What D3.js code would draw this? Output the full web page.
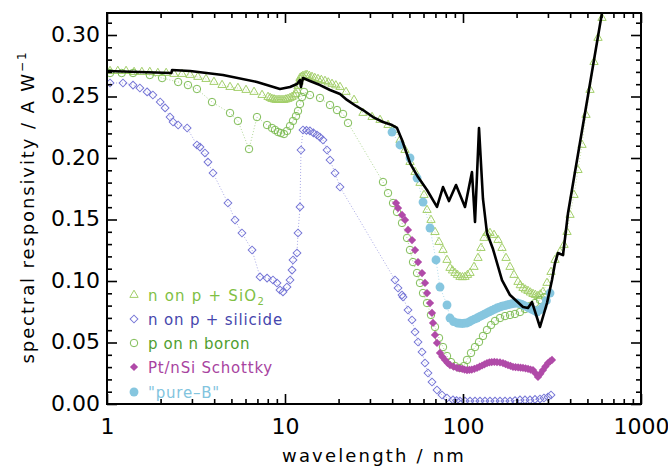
<!DOCTYPE html>
<html><head><meta charset="utf-8">
<script src="https://cdn.jsdelivr.net/npm/d3@7"></script>
<style>body{margin:0;background:#fff}svg{display:block}</style>
</head><body><svg id="c" width="668" height="469"></svg>
<script>
// ---- data: [wavelength nm, responsivity A/W] ----
const blackLine = [[1.00,0.2707],[2.30,0.2691],[2.32,0.2715],[2.93,0.2707],[4.48,0.2675],[6.96,0.2618],[9.37,0.2561],[10.67,0.2577],[11.68,0.2602],[12.14,0.2634],[12.30,0.2577],[12.62,0.2650],[13.81,0.2626],[15.73,0.2593],[17.90,0.2553],[20.37,0.2520],[22.30,0.2472],[25.06,0.2423],[27.43,0.2390],[31.23,0.2333],[35.53,0.2293],[39.93,0.2268],[42.59,0.2244],[45.44,0.2146],[50.39,0.1959],[55.89,0.1845],[62.78,0.1740],[71.43,0.1602],[77.20,0.1764],[83.4,0.1650],[91.37,0.1780],[102.6,0.1602],[112.3,0.1886],[116.8,0.1480],[123.0,0.2244],[129.5,0.1667],[136.4,0.1390],[147.4,0.1260],[165.6,0.1008],[183.7,0.0886],[217.3,0.0789],[231.8,0.0780],[244.2,0.0829],[270.7,0.0626],[296.4,0.0821],[316.2,0.1008],[328.8,0.1146],[341.7,0.1228],[364.6,0.1210],[389.1,0.1553],[603.8,0.3180],[640,0.335]];

const sio2 = [[1.04,0.2707],[1.15,0.2707],[1.28,0.2707],[1.42,0.2699],[1.57,0.2699],[1.74,0.2699],[1.93,0.2691],[2.15,0.2691],[2.38,0.2683],[2.64,0.2683],[2.93,0.2675],[3.24,0.2659],[3.60,0.2642],[3.99,0.2618],[4.43,0.2593],[4.91,0.2577],[5.44,0.2569],[6.04,0.2553],[6.70,0.2537],[7.43,0.2512],[8.03,0.2496],[8.25,0.2488],[8.45,0.2480],[8.68,0.2476],[8.90,0.2472],[9.14,0.2472],[9.37,0.2472],[9.62,0.2472],[9.87,0.2472],[10.13,0.2476],[10.39,0.2480],[10.67,0.2488],[10.95,0.2496],[11.24,0.2508],[11.53,0.2520],[11.68,0.2550],[11.83,0.2585],[12.00,0.2620],[12.14,0.2650],[12.38,0.2660],[12.62,0.2667],[13.00,0.2672],[13.29,0.2675],[13.70,0.2667],[14.18,0.2659],[14.70,0.2650],[15.32,0.2642],[16.00,0.2634],[16.78,0.2626],[17.50,0.2614],[18.37,0.2602],[19.30,0.2590],[20.37,0.2577],[22.02,0.2537],[24.42,0.2472],[27.43,0.2366],[30.83,0.2333],[34.19,0.2309],[37.91,0.2268],[41.50,0.2228],[44.28,0.2146],[47.23,0.2065],[50.39,0.1967],[53.77,0.1886],[57.35,0.1797],[60.38,0.1699],[62.78,0.1577],[66.09,0.1496],[69.61,0.1398],[73.31,0.1317],[77.20,0.1252],[81.30,0.1171],[84.53,0.1106],[87.3,0.1085],[90.19,0.1065],[93.1,0.1049],[96.19,0.1033],[99.3,0.1030],[102.6,0.1033],[106.0,0.1049],[109.5,0.1065],[115.3,0.1114],[121.4,0.1187],[126.2,0.1268],[131.2,0.1350],[136.4,0.1390],[141.8,0.1390],[149.4,0.1374],[157.3,0.1333],[165.6,0.1268],[174.4,0.1187],[183.7,0.1114],[193.4,0.1049],[203.7,0.0992],[210.0,0.0965],[217.3,0.0943],[224.0,0.0930],[231.8,0.0919],[239.0,0.0906],[247.3,0.0894],[255.0,0.0886],[263.8,0.0878],[272.0,0.0890],[281.4,0.0911],[296.4,0.0984],[312.2,0.1073],[328.8,0.1171],[350.7,0.1236],[369.4,0.1293],[384.0,0.1398],[399.2,0.1537],[420.4,0.1699],[442.6,0.1902],[466.2,0.2106],[491.0,0.2350],[517.0,0.2553],[544.5,0.2780],[573.4,0.2976],[603.8,0.3138]];

const silicide = [[1.04,0.2610],[1.23,0.2610],[1.40,0.2593],[1.53,0.2569],[1.68,0.2537],[1.81,0.2512],[1.99,0.2455],[2.12,0.2407],[2.26,0.2333],[2.35,0.2293],[2.51,0.2268],[2.82,0.2244],[3.20,0.2106],[3.33,0.2089],[3.55,0.2041],[3.69,0.1967],[3.94,0.1878],[4.78,0.1634],[5.24,0.1496],[5.73,0.1390],[6.53,0.1252],[7.24,0.1033],[7.93,0.1024],[8.56,0.1008],[9.02,0.0984],[9.37,0.0927],[9.74,0.0911],[10.26,0.0951],[10.67,0.1008],[10.95,0.1089],[11.09,0.1171],[11.68,0.1228],[11.83,0.1390],[12.14,0.1602],[12.30,0.2065],[12.62,0.2228],[13.20,0.2224],[13.81,0.2220],[14.45,0.2204],[15.13,0.2187],[15.70,0.2170],[16.35,0.2146],[17.22,0.2065],[17.90,0.1984],[19.10,0.1878],[20.37,0.1764],[41.50,0.1008],[43.14,0.0943],[45.44,0.0886],[46.03,0.0870],[49.09,0.0764],[51.71,0.0683],[53.77,0.0585],[55.89,0.0504],[58.86,0.0423],[61.17,0.0333],[63.59,0.0252],[66.96,0.0179],[71.43,0.0114],[76.2,0.0073],[81.30,0.0049],[87.87,0.0033],[92.0,0.0028],[96.19,0.0024],[102.6,0.0024],[109.5,0.0024],[116.8,0.0024],[124.6,0.0024],[132.9,0.0024],[141.8,0.0024],[151.3,0.0024],[161.4,0.0024],[172.2,0.0024],[183.7,0.0024],[196.0,0.0028],[209.0,0.0033],[223.0,0.0033],[237.9,0.0033],[253.8,0.0037],[270.7,0.0041],[285.0,0.0049],[300.3,0.0057],[312.2,0.0073]];

const boron = [[1.04,0.2691],[1.21,0.2691],[1.40,0.2691],[1.74,0.2675],[2.04,0.2650],[2.51,0.2618],[2.85,0.2593],[3.20,0.2561],[3.89,0.2455],[4.91,0.2366],[5.44,0.2301],[6.28,0.2073],[6.96,0.2333],[7.93,0.2268],[8.45,0.2244],[8.79,0.2228],[9.14,0.2211],[9.49,0.2203],[9.87,0.2195],[10.26,0.2220],[10.67,0.2260],[11.09,0.2301],[11.53,0.2341],[11.83,0.2382],[12.14,0.2439],[12.46,0.2496],[12.79,0.2537],[13.81,0.2512],[15.73,0.2488],[17.90,0.2431],[19.60,0.2390],[21.18,0.2358],[22.59,0.2285],[35.53,0.1805],[37.91,0.1715],[40.45,0.1634],[42.59,0.1561],[45.44,0.1472],[48.49,0.1350],[50.39,0.1252],[52.39,0.1154],[55.18,0.1065],[57.35,0.0984],[59.63,0.0902],[62.78,0.0821],[66.09,0.0724],[69.61,0.0626],[73.31,0.0537],[77.20,0.0463],[81.30,0.0390],[85.62,0.0341],[90.19,0.0309],[96.19,0.0293],[101.3,0.0309],[105.3,0.0358],[110.9,0.0415],[116.8,0.0463],[123.0,0.0504],[129.5,0.0553],[136.4,0.0602],[143.7,0.0642],[151.3,0.0675],[161.4,0.0699],[172.2,0.0715],[183.7,0.0724],[195.9,0.0732],[209.0,0.0748],[223.0,0.0772],[237.9,0.0797],[253.8,0.0821],[270.7,0.0846],[288.9,0.0870]];

const schottky = [[42.04,0.1634],[43.14,0.1593],[45.44,0.1537],[47.23,0.1496],[49.09,0.1415],[51.71,0.1333],[53.77,0.1252],[55.89,0.1154],[58.86,0.1065],[61.17,0.0984],[62.78,0.0902],[65.26,0.0821],[66.96,0.0740],[67.84,0.0659],[69.61,0.0561],[71.43,0.0496],[74.26,0.0415],[76.5,0.0385],[79.23,0.0358],[81.8,0.0335],[84.53,0.0317],[88.5,0.0303],[92.54,0.0293],[95.7,0.0289],[99.0,0.0285],[102.0,0.0280],[105.3,0.0276],[108.6,0.0278],[112.0,0.0280],[115.8,0.0286],[119.9,0.0293],[124.0,0.0303],[128.0,0.0313],[132.0,0.0323],[136.4,0.0333],[140.6,0.0338],[145.0,0.0341],[150.0,0.0342],[155.2,0.0341],[161.4,0.0338],[167.8,0.0333],[173.3,0.0325],[179.0,0.0317],[185.0,0.0309],[190.9,0.0301],[197.3,0.0299],[204.0,0.0297],[210.6,0.0295],[217.3,0.0293],[224.5,0.0290],[232.0,0.0285],[239.5,0.0280],[247.3,0.0276],[255.0,0.0250],[263.8,0.0220],[272.0,0.0245],[281.4,0.0276],[290.5,0.0305],[300.3,0.0333],[308.0,0.0346],[316.2,0.0358]];

const pureB = [[39.93,0.2211],[44.28,0.2106],[50.39,0.2000],[55.18,0.1837],[59.63,0.1642],[65.26,0.1431],[70.51,0.1171],[74.26,0.0951],[81.30,0.0805],[84.53,0.0699],[88.5,0.0670],[92.54,0.0659],[95.7,0.0656],[99.0,0.0655],[102.0,0.0657],[105.3,0.0659],[108.6,0.0668],[112.0,0.0680],[116.0,0.0690],[119.9,0.0699],[124.0,0.0710],[128.0,0.0720],[132.0,0.0730],[136.4,0.0740],[140.6,0.0750],[145.0,0.0760],[150.0,0.0770],[155.2,0.0780],[160.3,0.0788],[165.6,0.0795],[171.0,0.0800],[176.7,0.0805],[182.0,0.0810],[188.0,0.0815],[194.5,0.0818],[201.1,0.0821],[207.5,0.0816],[214.0,0.0810],[221.0,0.0800],[228.8,0.0789],[236.0,0.0780],[244.0,0.0770],[252.0,0.0760],[260.4,0.0748],[270.0,0.0765],[281.4,0.0789],[294.0,0.0840],[308.2,0.0902]];

const xMajor = [1, 10, 100, 1000];
const xMinor = [2,3,4,5,6,7,8,9,20,30,40,50,60,70,80,90,200,300,400,500,600,700,800,900];
const yMajor = [0, 0.05, 0.10, 0.15, 0.20, 0.25, 0.30];
const yMinor = [0.01,0.02,0.03,0.04,0.06,0.07,0.08,0.09,0.11,0.12,0.13,0.14,0.16,0.17,0.18,0.19,0.21,0.22,0.23,0.24,0.26,0.27,0.28,0.29,0.31];
const legendLabels = ["n on p + SiO", "n on p + silicide", "p on n boron", "Pt/nSi Schottky", "\"pure\u2013B\""];

// ---- layout ----
const svg = d3.select("#c");
const L = 107, R = 641, T = 13, B = 404;
const x = d3.scaleLog().domain([1, 1000]).range([L, R]);
const y = d3.scaleLinear().domain([0, (B - T) / 1230]).range([B, T]);
const FONT = "DejaVu Sans, Verdana, sans-serif";

const col = {
  sio2: "#a3cf6a", silicide: "#7676d6", boron: "#7fbd56", schottky: "#b04aa8", pureB: "#86c6df",
  tSio2: "#80c043", tSil: "#4646ad", tBoron: "#4f9e2f", tSch: "#a8439f", tPure: "#82c4de"
};

svg.append("defs").append("clipPath").attr("id", "clip")
  .append("rect").attr("x", L).attr("y", T).attr("width", R - L).attr("height", B - T);

const plot = svg.append("g").attr("clip-path", "url(#clip)");
const lineGen = d3.line().x(d => x(d[0])).y(d => y(d[1]));

function dotted(data, color) {
  plot.append("path").datum(data).attr("d", lineGen).attr("fill", "none")
    .attr("stroke", color).attr("stroke-width", 0.9).attr("stroke-dasharray", "1,2").attr("opacity", 0.7);
}
dotted(sio2, col.sio2);
dotted(boron, col.boron);
dotted(silicide, col.silicide);
dotted(pureB, col.pureB);

const triSym = d3.symbol().type(d3.symbolTriangle).size(30)();
const cirSym = d3.symbol().type(d3.symbolCircle).size(44)();
const sqSym = d3.symbol().type(d3.symbolSquare).size(30)();
const sqFill = d3.symbol().type(d3.symbolSquare).size(34)();
const cirFill = d3.symbol().type(d3.symbolCircle).size(62)();

function marks(g, data, path, rot, fill, stroke) {
  g.selectAll(null).data(data).join("path")
    .attr("d", path)
    .attr("transform", d => `translate(${x(d[0])},${y(d[1])}) rotate(${rot})`)
    .attr("fill", fill).attr("stroke", stroke).attr("stroke-width", 1);
}
marks(plot.append("g"), sio2, triSym, 0, "none", col.sio2);
marks(plot.append("g"), boron, cirSym, 0, "none", col.boron);
marks(plot.append("g"), silicide, sqSym, 45, "none", col.silicide);
marks(plot.append("g"), schottky, sqFill, 45, col.schottky, "none");
marks(plot.append("g"), pureB, cirFill, 0, col.pureB, "none");

plot.append("path").datum(blackLine).attr("d", lineGen).attr("fill", "none")
  .attr("stroke", "#000").attr("stroke-width", 2.6).attr("stroke-linejoin", "round");

// ---- axes (inward ticks on all four sides) ----
function styleAxis(g) { g.select(".domain").remove(); g.selectAll("line").attr("stroke", "#000").attr("stroke-width", 1.6); }
svg.append("g").attr("transform", `translate(0,${B})`)
  .call(d3.axisBottom(x).tickValues(xMajor).tickSize(-10).tickPadding(14).tickFormat(d3.format("d")))
  .call(styleAxis).call(g => g.selectAll("text").attr("font-family", FONT).attr("font-size", 22).attr("fill", "#000"));
svg.append("g").attr("transform", `translate(0,${B})`)
  .call(d3.axisBottom(x).tickValues(xMinor).tickSize(-5).tickFormat("")).call(styleAxis);
svg.append("g").attr("transform", `translate(0,${T})`)
  .call(d3.axisTop(x).tickValues(xMajor).tickSize(-10).tickFormat("")).call(styleAxis);
svg.append("g").attr("transform", `translate(0,${T})`)
  .call(d3.axisTop(x).tickValues(xMinor).tickSize(-5).tickFormat("")).call(styleAxis);
svg.append("g").attr("transform", `translate(${L},0)`)
  .call(d3.axisLeft(y).tickValues(yMajor).tickSize(-10).tickPadding(7).tickFormat(d3.format(".2f")))
  .call(styleAxis).call(g => g.selectAll("text").attr("font-family", FONT).attr("font-size", 22).attr("fill", "#000").attr("dy", "0.28em"));
svg.append("g").attr("transform", `translate(${L},0)`)
  .call(d3.axisLeft(y).tickValues(yMinor).tickSize(-5).tickFormat("")).call(styleAxis);
svg.append("g").attr("transform", `translate(${R},0)`)
  .call(d3.axisRight(y).tickValues(yMajor).tickSize(-10).tickFormat("")).call(styleAxis);
svg.append("g").attr("transform", `translate(${R},0)`)
  .call(d3.axisRight(y).tickValues(yMinor).tickSize(-5).tickFormat("")).call(styleAxis);

svg.append("rect").attr("x", L).attr("y", T).attr("width", R - L).attr("height", B - T)
  .attr("fill", "none").attr("stroke", "#000").attr("stroke-width", 2);

function fit(t, target) {
  const n = t.node().getNumberOfChars();
  const len = t.node().getComputedTextLength();
  t.attr("letter-spacing", ((target - len) / n).toFixed(2));
}

// axis titles
const xt = svg.append("text").attr("x", (L + R) / 2).attr("y", 462).attr("text-anchor", "middle")
  .attr("font-family", FONT).attr("font-size", 18).attr("fill", "#000").text("wavelength / nm");
fit(xt, 184);

const yt = svg.append("text").attr("transform", "translate(34,207) rotate(-90)").attr("text-anchor", "middle")
  .attr("font-family", FONT).attr("font-size", 18).attr("fill", "#000");
yt.append("tspan").text("spectral responsivity / A W");
yt.append("tspan").attr("font-size", 12).attr("dy", -8).text("\u22121");
fit(yt, 313);

// legend
const legY = [295, 319, 343, 367, 392];
const legSyms = [[triSym, 0, "none", col.sio2], [sqSym, 45, "none", col.silicide], [cirSym, 0, "none", col.boron], [sqFill, 45, col.schottky, "none"], [cirFill, 0, col.pureB, "none"]];
const legText = [col.tSio2, col.tSil, col.tBoron, col.tSch, col.tPure];
const legLen = [117, 135, 102, 125, 72];
legendLabels.forEach((lab, i) => {
  const s = legSyms[i];
  svg.append("path").attr("d", s[0]).attr("transform", `translate(134,${legY[i]}) rotate(${s[1]})`)
    .attr("fill", s[2]).attr("stroke", s[3]).attr("stroke-width", 1);
  const t = svg.append("text").attr("x", 148).attr("y", legY[i] + 5.5)
    .attr("font-family", FONT).attr("font-size", 15).attr("fill", legText[i]);
  t.append("tspan").text(lab);
  if (i === 0) t.append("tspan").attr("font-size", 10).attr("dy", 4).text("2");
  fit(t, legLen[i]);
});
</script></body></html>
